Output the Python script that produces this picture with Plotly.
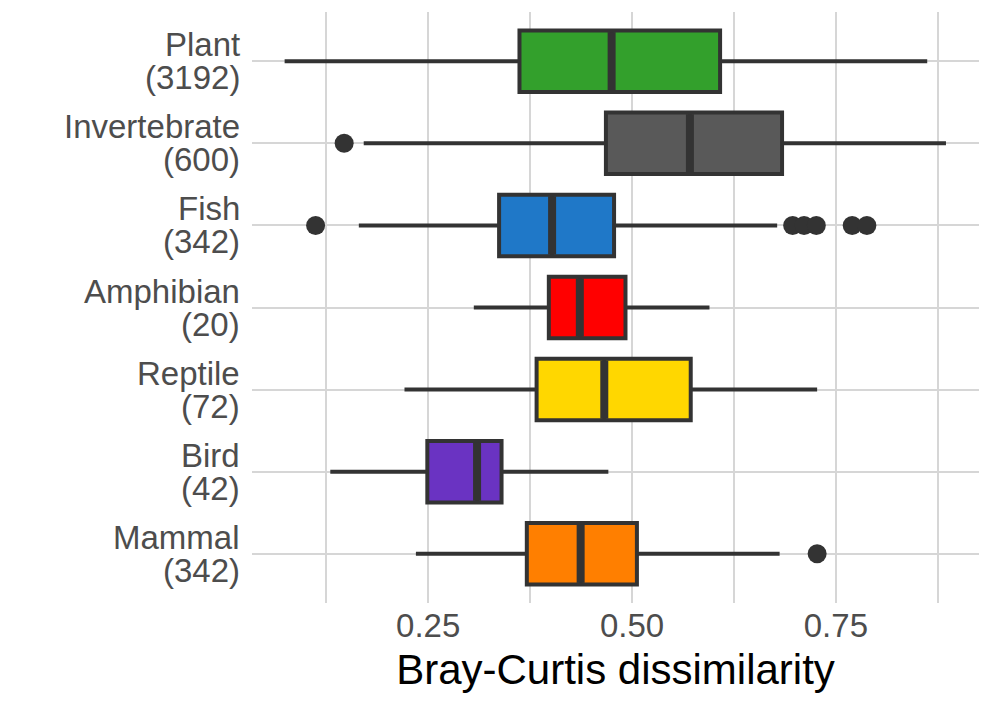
import plotly.graph_objects as go

categories = ["Plant", "Invertebrate", "Fish", "Amphibian", "Reptile", "Bird", "Mammal"]
counts = [3192, 600, 342, 20, 72, 42, 342]
lower = [0.074, 0.171, 0.165, 0.306, 0.221, 0.130, 0.235]
q1 = [0.362, 0.468, 0.337, 0.398, 0.383, 0.249, 0.371]
median = [0.475, 0.571, 0.402, 0.436, 0.466, 0.310, 0.437]
q3 = [0.608, 0.684, 0.478, 0.492, 0.572, 0.340, 0.506]
upper = [0.862, 0.885, 0.678, 0.595, 0.727, 0.471, 0.681]
outliers = {
    "Invertebrate": [0.147],
    "Fish": [0.112, 0.697, 0.711, 0.726, 0.770, 0.788],
    "Mammal": [0.727],
}
colors = ["#33A02C", "#595959", "#1F78C8", "#FF0000", "#FFD700", "#6A33C2", "#FF7F00"]
major_ticks = [0.25, 0.50, 0.75]
major_labels = ["0.25", "0.50", "0.75"]
minor_ticks = [0.125, 0.375, 0.625, 0.875]

EDGE = "#333333"
FONT = "Liberation Sans"
BOXW = 0.75

fig = go.Figure()
for i, cat in enumerate(categories):
    fig.add_trace(go.Box(
        orientation="h", y=[i], q1=[q1[i]], median=[median[i]], q3=[q3[i]],
        lowerfence=[lower[i]], upperfence=[upper[i]],
        fillcolor=colors[i], line=dict(color=EDGE, width=4),
        width=BOXW, whiskerwidth=0, boxpoints=False, showlegend=False,
        hoverinfo="skip",
    ))
    # thicker median line (ggplot fatten)
    fig.add_trace(go.Scatter(
        x=[median[i], median[i]], y=[i - BOXW / 2 + 0.02, i + BOXW / 2 - 0.02],
        mode="lines", line=dict(color=EDGE, width=8), showlegend=False,
        hoverinfo="skip",
    ))
    if cat in outliers:
        pts = outliers[cat]
        fig.add_trace(go.Scatter(
            x=pts, y=[i] * len(pts), mode="markers",
            marker=dict(color=EDGE, size=19, line=dict(width=0)),
            showlegend=False, hoverinfo="skip",
        ))

annotations = []
for i, cat in enumerate(categories):
    annotations.append(dict(
        x=0, xref="paper", y=i, yref="y", text=cat, showarrow=False,
        xanchor="right", yanchor="middle", xshift=-10, yshift=16.5,
        font=dict(family=FONT, size=33, color="#4D4D4D"),
    ))
    annotations.append(dict(
        x=0, xref="paper", y=i, yref="y", text=f"({counts[i]})", showarrow=False,
        xanchor="right", yanchor="middle", xshift=-10, yshift=-16.5,
        font=dict(family=FONT, size=33, color="#4D4D4D"),
    ))

fig.update_layout(
    width=992, height=708,
    margin=dict(l=252, r=13, t=12, b=105),
    paper_bgcolor="white", plot_bgcolor="white",
    annotations=annotations,
    font=dict(family=FONT),
    xaxis=dict(
        range=[0.034, 0.9255], tickvals=major_ticks, ticktext=major_labels,
        showgrid=True, gridcolor="#D6D6D6", gridwidth=1.8, zeroline=False,
        showline=False, ticks="",
        tickfont=dict(family=FONT, size=33, color="#4D4D4D"),
        minor=dict(tickvals=minor_ticks, showgrid=True, gridcolor="#D6D6D6",
                   gridwidth=1.8, ticks=""),
        title=dict(text="Bray-Curtis dissimilarity",
                   font=dict(family=FONT, size=42, color="black"), standoff=11),
    ),
    yaxis=dict(
        range=[len(categories) - 0.4, -0.6], tickvals=list(range(len(categories))),
        showticklabels=False, showgrid=True, gridcolor="#D6D6D6", gridwidth=1.8,
        zeroline=False, showline=False, ticks="",
    ),
)

fig.write_html("out.html")
